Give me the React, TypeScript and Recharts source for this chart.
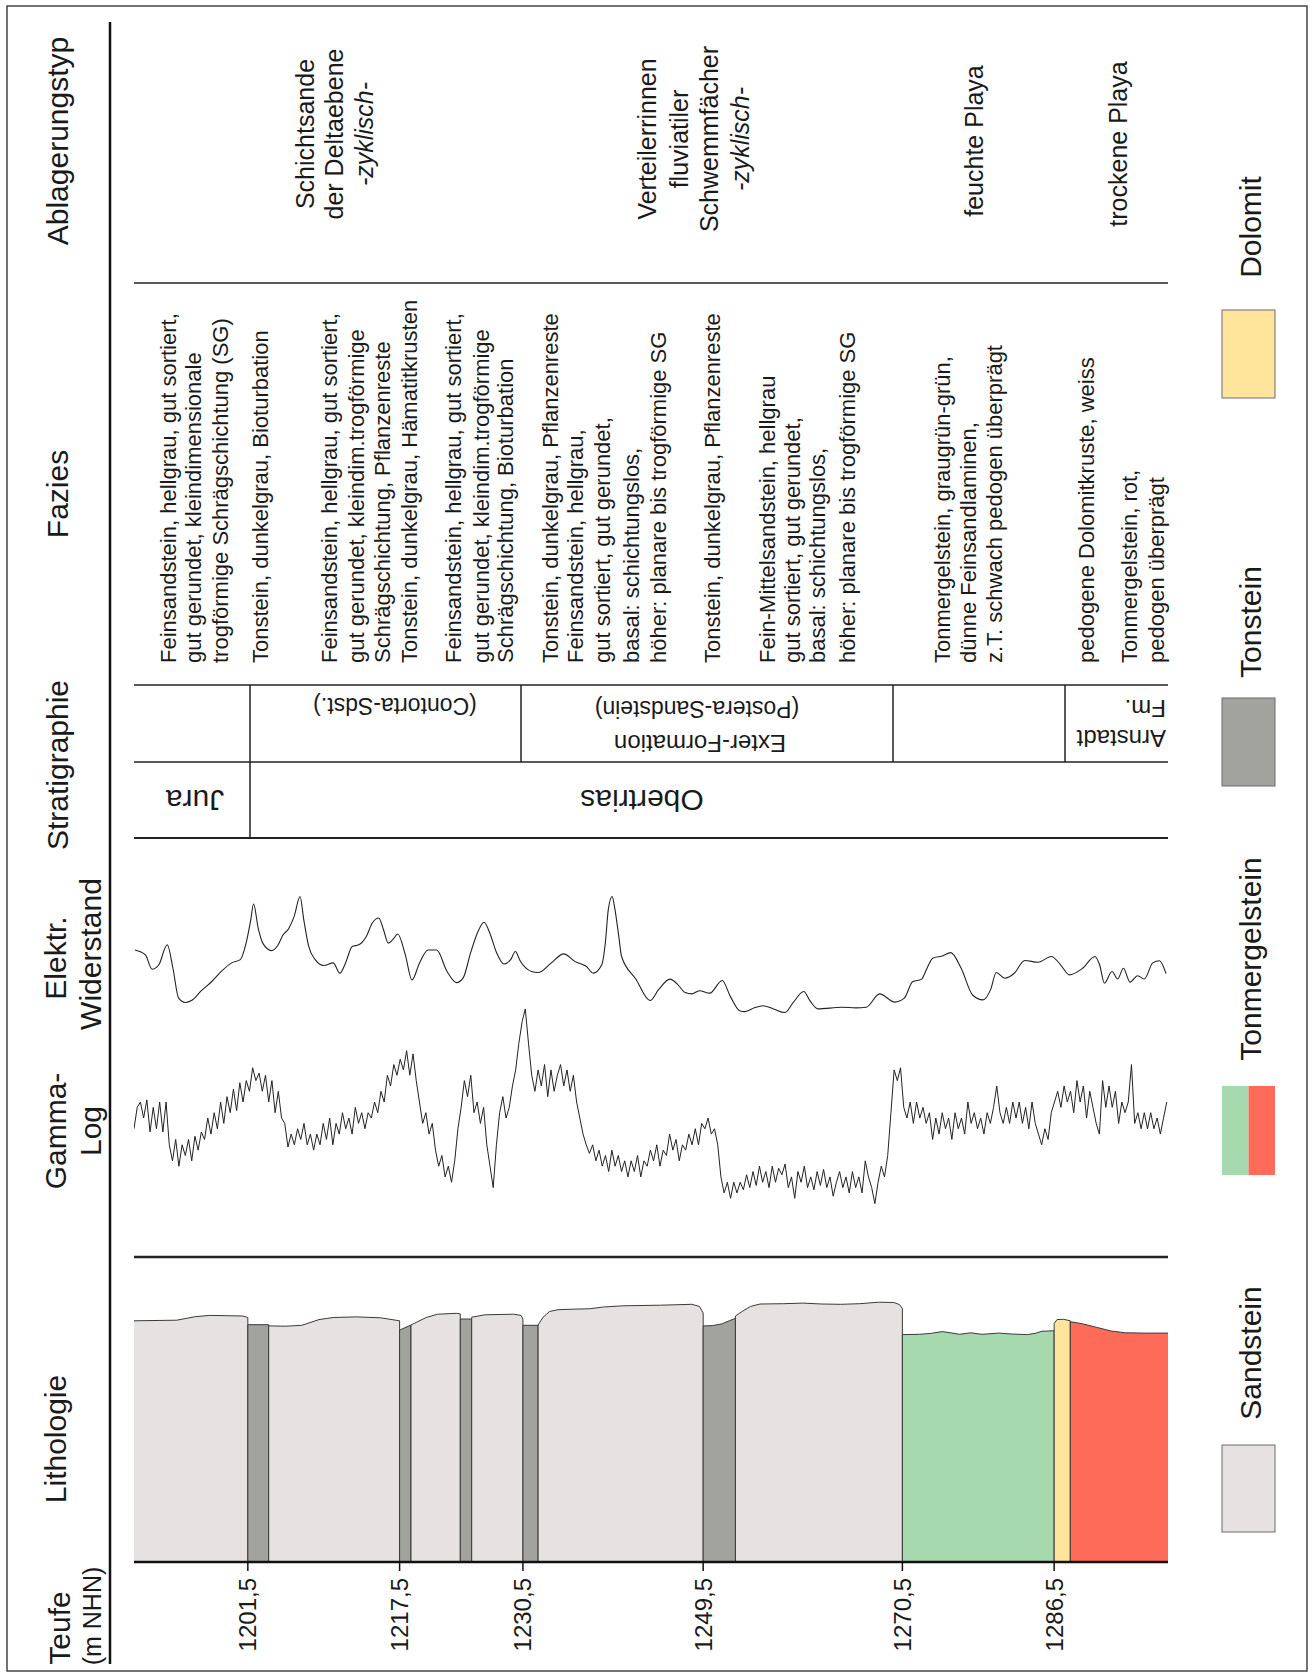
import React from 'react';
import { ComposedChart, LineChart, Line, Area, XAxis, YAxis } from 'recharts';

const FONT = "'Liberation Sans', Arial, Helvetica, sans-serif";
const INK = '#1a1a1a';

// ---------- data ----------
const DEPTH_DOMAIN: [number, number] = [1189.5, 1298.5];
const DEPTH_TICKS = [1201.5, 1217.5, 1230.5, 1249.5, 1270.5, 1286.5];

// Gamma log, sampled every GAMMA_STEP m from GAMMA_TOP (API-like units)
const GAMMA_TOP = 1189.5;
const GAMMA_STEP = 0.3381;
const GAMMA_VALUES = [
  75, 95, 100, 85, 102, 72, 95, 75, 100, 72,
  100, 60, 45, 65, 40, 60, 50, 65, 45, 68,
  55, 72, 65, 85, 70, 90, 75, 100, 80, 105,
  90, 112, 92, 118, 100, 120, 110, 132, 120, 127,
  110, 125, 100, 120, 90, 110, 85, 80, 58, 70,
  60, 75, 65, 80, 60, 70, 55, 70, 60, 80,
  65, 85, 60, 80, 70, 90, 75, 85, 70, 95,
  80, 90, 75, 90, 85, 100, 90, 110, 100, 125,
  115, 135, 125, 140, 130, 148, 125, 145, 120, 100,
  80, 90, 70, 80, 55, 40, 50, 30, 40, 25,
  45, 75, 95, 120, 105, 125, 90, 100, 80, 95,
  60, 40, 20, 60, 90, 105, 85, 95, 115, 130,
  155, 175, 187, 155, 125, 110, 130, 115, 135, 105,
  130, 110, 125, 135, 115, 130, 110, 125, 100, 85,
  70, 60, 52, 60, 45, 55, 40, 50, 35, 55,
  40, 50, 35, 45, 30, 45, 35, 50, 30, 45,
  40, 55, 45, 60, 40, 55, 50, 70, 55, 65,
  45, 60, 55, 70, 60, 75, 60, 80, 75, 85,
  70, 75, 60, 30, 15, 25, 10, 25, 15, 25,
  18, 32, 20, 35, 22, 40, 25, 35, 20, 40,
  25, 38, 32, 42, 20, 30, 10, 35, 25, 40,
  20, 30, 18, 35, 22, 37, 20, 30, 12, 25,
  35, 20, 30, 15, 35, 20, 30, 15, 45, 30,
  20, 5, 25, 40, 30, 50, 90, 130, 120, 132,
  95, 85, 100, 80, 100, 85, 95, 80, 90, 65,
  85, 70, 90, 75, 85, 65, 90, 75, 85, 70,
  100, 80, 90, 75, 85, 70, 90, 80, 95, 115,
  90, 80, 95, 80, 100, 85, 100, 80, 95, 75,
  100, 80, 70, 60, 75, 65, 90, 100, 110, 95,
  115, 100, 110, 90, 120, 100, 115, 85, 110, 95,
  80, 70, 120, 95, 115, 95, 110, 80, 100, 90,
  100, 135, 80, 90, 75, 90, 75, 90, 75, 85,
  70, 85, 100,
];

// Electrical resistivity (arbitrary units)
const RES_DEPTH = [
  1189.6, 1190.7, 1191.4, 1192.1, 1193.0, 1193.6, 1194.2, 1194.9, 1195.6, 1196.6,
  1197.7, 1198.7, 1199.8, 1200.7, 1201.3, 1201.8, 1202.1, 1202.6, 1203.1, 1204.0,
  1204.7, 1205.2, 1205.8, 1206.4, 1207.0, 1207.4, 1207.9, 1208.6, 1209.5, 1210.5,
  1211.2, 1211.8, 1212.5, 1213.2, 1214.0, 1214.6, 1215.3, 1215.8, 1216.3, 1216.8,
  1217.3, 1218.1, 1218.8, 1219.6, 1220.5, 1221.4, 1222.5, 1223.5, 1224.2, 1225.0,
  1225.7, 1226.4, 1227.0, 1227.7, 1228.5, 1229.2, 1229.7, 1230.2, 1231.4, 1232.1,
  1233.5, 1234.8, 1236.0, 1237.2, 1237.9, 1238.8, 1239.2, 1239.5, 1239.9, 1240.2,
  1240.6, 1240.9, 1242.4, 1243.9, 1244.8, 1246.0, 1246.8, 1247.6, 1248.3, 1249.1,
  1250.2, 1251.5, 1252.4, 1253.4, 1253.9, 1254.9, 1255.8, 1256.9, 1258.1, 1259.0,
  1260.1, 1260.8, 1261.6, 1264.1, 1265.6, 1266.7, 1268.1, 1269.7, 1270.7, 1271.6,
  1272.5, 1273.1, 1273.7, 1274.7, 1275.6, 1276.7, 1277.9, 1279.0, 1279.8, 1280.4,
  1281.3, 1282.3, 1283.4, 1284.8, 1286.2, 1287.2, 1288.1, 1289.5, 1290.8, 1291.3,
  1291.8, 1292.6, 1293.2, 1293.8, 1294.5, 1295.3, 1296.0, 1296.9, 1297.6, 1298.3,
];
const RES_VALUE = [
  62, 57.5, 44, 48, 67, 45, 17, 13, 15, 24,
  32.6, 42, 50, 53, 68, 90, 105, 82, 68, 61.5,
  67, 76, 82, 94, 112, 90, 66, 53, 47.5, 50,
  40.3, 50, 65.3, 67, 75, 87, 92, 81, 68.5, 72,
  77, 57.5, 34, 50, 62, 62, 42, 31.6, 36, 60,
  78, 88, 78, 60, 49, 53, 60.6, 52, 42, 41,
  50, 58.4, 51.2, 46.6, 40.4, 48, 70, 100, 112, 100,
  75, 56, 35, 14.8, 25, 34.8, 30, 22.3, 21, 24,
  21.7, 33.5, 18, 5, 4.5, 8, 10, 7, 3.6, 13,
  23.2, 14, 7, 8.5, 8, 8.6, 21, 13.3, 17, 32.6,
  34.6, 45, 54.4, 56.5, 59.6, 45, 20, 15.4, 25, 41,
  35.6, 40.3, 52.2, 50.6, 56, 48, 38.8, 45, 56, 48,
  31, 42, 35, 45, 32, 38, 35, 50, 52, 40,
];

// Lithology units: kind + profile of the column edge [depth, profile value]
const LITHO_UNITS: { kind: string; top: [number, number][] }[] = [
  { kind: 'sand', top: [[1189.5, 80.4], [1194, 80.6], [1196, 81.8], [1197.5, 82.2], [1201, 82], [1201.5, 81.5]] },
  { kind: 'ton', top: [[1201.5, 79.1], [1203.7, 79.1]] },
  { kind: 'sand', top: [[1203.7, 78.7], [1205.5, 78.6], [1207.2, 78.9], [1209, 80.8], [1210.5, 81.5], [1213, 81.7], [1215.5, 81.4], [1217.5, 80.4]] },
  { kind: 'ton', top: [[1217.5, 77.3], [1218.7, 79]] },
  { kind: 'sand', top: [[1218.7, 79], [1220.3, 81.5], [1221.5, 82.6], [1223.5, 82.9], [1223.9, 82.7]] },
  { kind: 'ton', top: [[1223.9, 81], [1225.1, 81]] },
  { kind: 'sand', top: [[1225.1, 81.6], [1226.5, 82.4], [1229.5, 82.6], [1230.3, 82.2], [1230.5, 81]] },
  { kind: 'ton', top: [[1230.5, 78.9], [1232.1, 78.9]] },
  { kind: 'sand', top: [[1232.1, 79], [1232.6, 81.5], [1233.3, 83.5], [1234.2, 84.1], [1236, 84.3], [1237.5, 84.4], [1239, 85], [1241, 85.4], [1245, 85.6], [1248.3, 85.9], [1249.1, 85.2], [1249.5, 83]] },
  { kind: 'ton', top: [[1249.5, 78.7], [1250.5, 78.8], [1251.5, 79.4], [1252.3, 80.5], [1252.9, 81.2]] },
  { kind: 'sand', top: [[1252.9, 82], [1253.6, 83.5], [1254.5, 85.2], [1255.5, 86], [1258, 86.1], [1260, 86.3], [1262, 86], [1264, 85.9], [1266, 86.1], [1268, 86.6], [1269.6, 86.5], [1270.2, 85.8], [1270.5, 84.5]] },
  { kind: 'mergelGruen', top: [[1270.5, 75.8], [1272.3, 75.9], [1273.5, 76.2], [1274.7, 76.8], [1275.6, 76.4], [1276.5, 75.9], [1277.7, 76.4], [1278.9, 75.9], [1280.7, 76.3], [1282, 76], [1283.7, 75.8], [1284.6, 76.3], [1285.2, 76.9], [1286.5, 77.1]] },
  { kind: 'dolomit', top: [[1286.5, 79.5], [1286.8, 80.8], [1287.5, 80.9], [1288.2, 80.4]] },
  { kind: 'mergelRot', top: [[1288.2, 80.1], [1289.5, 79.4], [1291, 78.2], [1292.5, 77], [1294, 76.4], [1296, 76.3], [1298.5, 76.3]] },
];

const LITHO_COLORS: Record<string, string> = {
  sand: '#E6E2E2',
  ton: '#A2A29E',
  mergelGruen: '#A6DAAE',
  mergelRot: '#FF6B59',
  dolomit: '#FFE49C',
};

// ---------- texts ----------
const HEADERS: [number, number, string, number][] = [
  [59, 1628, 'Teufe', 30],
  [92, 1616, '(m NHN)', 25],
  [55, 1439, 'Lithologie', 30],
  [55, 1131, 'Gamma-', 30],
  [90, 1131, 'Log', 30],
  [55, 958, 'Elektr.', 30],
  [90, 954, 'Widerstand', 30],
  [57, 765, 'Stratigraphie', 30],
  [57, 494, 'Fazies', 30],
  [57, 141, 'Ablagerungstyp', 30],
];

const FAZIES_LINES: [number, string][] = [
  [168, 'Feinsandstein, hellgrau, gut sortiert,'],
  [193, 'gut gerundet, kleindimensionale'],
  [220, 'trogförmige Schrägschichtung (SG)'],
  [260, 'Tonstein, dunkelgrau, Bioturbation'],
  [329, 'Feinsandstein, hellgrau, gut sortiert,'],
  [356, 'gut gerundet, kleindim.trogförmige'],
  [382, 'Schrägschichtung, Pflanzenreste'],
  [409, 'Tonstein, dunkelgrau, Hämatitkrusten'],
  [453, 'Feinsandstein, hellgrau, gut sortiert,'],
  [481, 'gut gerundet, kleindim.trogförmige'],
  [505, 'Schrägschichtung, Bioturbation'],
  [550, 'Tonstein, dunkelgrau, Pflanzenreste'],
  [575, 'Feinsandstein, hellgrau,'],
  [602, 'gut sortiert, gut gerundet,'],
  [631, 'basal: schichtungslos,'],
  [658, 'höher: planare bis trogförmige SG'],
  [712, 'Tonstein, dunkelgrau, Pflanzenreste'],
  [767, 'Fein-Mittelsandstein, hellgrau'],
  [792, 'gut sortiert, gut gerundet,'],
  [817, 'basal: schichtungslos,'],
  [847, 'höher: planare bis trogförmige SG'],
  [942, 'Tonmergelstein, graugrün-grün,'],
  [968, 'dünne Feinsandlaminen,'],
  [994, 'z.T. schwach pedogen überprägt'],
  [1086, 'pedogene Dolomitkruste, weiss'],
  [1129, 'Tonmergelstein, rot,'],
  [1156, 'pedogen überprägt'],
];

const ABLAGERUNG_LINES: [number, number, string, boolean][] = [
  [305, 134, 'Schichtsande', false],
  [334, 134, 'der Deltaebene', false],
  [364, 134, '-zyklisch-', true],
  [647, 139, 'Verteilerrinnen', false],
  [679, 139, 'fluviatiler', false],
  [709, 139, 'Schwemmfächer', false],
  [740, 139, '-zyklisch-', true],
  [974, 141, 'feuchte Playa', false],
  [1118, 144, 'trockene Playa', false],
];

const STRAT_TEXTS: [number, number, string, 'middle' | 'start', number][] = [
  [395, 706, '(Contorta-Sdst.)', 'middle', 23],
  [700, 743, 'Exter-Formation', 'middle', 24],
  [697, 709, '(Postera-Sandstein)', 'middle', 23],
  [1166, 738, 'Arnstadt', 'start', 24],
  [1166, 708, 'Fm.', 'start', 24],
  [195, 800, 'Jura', 'middle', 30],
  [642, 800, 'Obertrias', 'middle', 30],
];

const LEGEND: { label: string; fills: string[]; y: number; h: number; ty: number }[] = [
  { label: 'Dolomit', fills: [LITHO_COLORS.dolomit], y: 310, h: 88, ty: 227 },
  { label: 'Tonstein', fills: [LITHO_COLORS.ton], y: 698, h: 88, ty: 622 },
  { label: 'Tonmergelstein', fills: [LITHO_COLORS.mergelGruen, LITHO_COLORS.mergelRot], y: 1086, h: 89, ty: 959 },
  { label: 'Sandstein', fills: [LITHO_COLORS.sand], y: 1445, h: 87, ty: 1353 },
];

// ---------- layout ----------
const PLOT_LEFT = 134;
const PLOT_WIDTH = 1034;

const fmtDepth = (v: number) => v.toFixed(1).replace('.', ',');

function DepthTick(props: any) {
  const { x, y, payload } = props;
  const ty = y + 2;
  return (
    <text
      x={x}
      y={ty}
      transform={`rotate(-90 ${x} ${ty})`}
      textAnchor="end"
      dominantBaseline="central"
      fontFamily={FONT}
      fontSize={24}
      fill={INK}
    >
      {fmtDepth(payload.value)}
    </text>
  );
}

function VText({ x, y, text, size, anchor = 'middle', italic = false, rot = -90 }: any) {
  return (
    <text
      x={x}
      y={y}
      transform={`rotate(${rot} ${x} ${y})`}
      textAnchor={anchor}
      dominantBaseline="central"
      fontFamily={FONT}
      fontSize={size}
      fontStyle={italic ? 'italic' : 'normal'}
      fill={INK}
    >
      {text}
    </text>
  );
}

export default function App() {
  const gammaRows = GAMMA_VALUES.map((g, i) => ({ d: GAMMA_TOP + i * GAMMA_STEP, g }));
  const resRows = RES_DEPTH.map((d, i) => ({ d, r: RES_VALUE[i] }));

  const hLines = [
    { y: 283, w: 1.5 },
    { y: 685, w: 1.5 },
    { y: 762, w: 1.5 },
    { y: 838, w: 2 },
    { y: 1257, w: 2.5 },
  ];
  const vLines = [
    { x: 250, y1: 685, y2: 838 },
    { x: 521, y1: 685, y2: 762 },
    { x: 893, y1: 685, y2: 762 },
    { x: 1065, y1: 685, y2: 762 },
  ];

  return (
    <div style={{ position: 'relative', width: 1314, height: 1678, background: '#fff', overflow: 'hidden' }}>
      <style>{'html,body{margin:0;padding:0;background:#fff;}'}</style>
      <svg width={1314} height={1678} style={{ position: 'absolute', left: 0, top: 0 }}>
        <rect x={7} y={6} width={1300} height={1665} fill="none" stroke="#444" strokeWidth={1.5} />
        <line x1={110} y1={22} x2={110} y2={1664} stroke="#111" strokeWidth={2.5} />
        {hLines.map((l, i) => (
          <line key={i} x1={PLOT_LEFT} y1={l.y} x2={PLOT_LEFT + PLOT_WIDTH} y2={l.y} stroke="#222" strokeWidth={l.w} />
        ))}
        {vLines.map((l, i) => (
          <line key={i} x1={l.x} y1={l.y1} x2={l.x} y2={l.y2} stroke="#222" strokeWidth={1.5} />
        ))}
        {HEADERS.map(([x, y, t, s], i) => (
          <VText key={i} x={x} y={y} text={t} size={s} />
        ))}
        {FAZIES_LINES.map(([x, t], i) => (
          <VText key={i} x={x} y={663} text={t} size={22} anchor="start" />
        ))}
        {ABLAGERUNG_LINES.map(([x, y, t, it], i) => (
          <VText key={i} x={x} y={y} text={t} size={25} italic={it} />
        ))}
        {STRAT_TEXTS.map(([x, y, t, a, s], i) => (
          <VText key={i} x={x} y={y} text={t} size={s} anchor={a} rot={180} />
        ))}
        {LEGEND.map((l, i) => (
          <g key={i}>
            {l.fills.map((f, j) => {
              const w = 53 / l.fills.length;
              return (
                <rect
                  key={j}
                  x={1222 + j * w}
                  y={l.y}
                  width={w}
                  height={l.h}
                  fill={f}
                  stroke={l.fills.length > 1 ? 'none' : '#6b6b6b'}
                  strokeWidth={1}
                />
              );
            })}
            <VText x={1250} y={l.ty} text={l.label} size={30} />
          </g>
        ))}
      </svg>

      {/* Elektr. Widerstand */}
      <div style={{ position: 'absolute', left: PLOT_LEFT, top: 888 }}>
        <LineChart width={PLOT_WIDTH} height={128.4} data={resRows} margin={{ top: 0, right: 0, bottom: 0, left: 0 }}>
          <XAxis dataKey="d" type="number" domain={DEPTH_DOMAIN} hide allowDataOverflow />
          <YAxis type="number" domain={[0, 120]} hide allowDataOverflow />
          <Line dataKey="r" type="monotone" stroke="#222" strokeWidth={1.1} dot={false} activeDot={false} isAnimationActive={false} />
        </LineChart>
      </div>

      {/* Gamma-Log */}
      <div style={{ position: 'absolute', left: PLOT_LEFT, top: 995 }}>
        <LineChart width={PLOT_WIDTH} height={214} data={gammaRows} margin={{ top: 0, right: 0, bottom: 0, left: 0 }}>
          <XAxis dataKey="d" type="number" domain={DEPTH_DOMAIN} hide allowDataOverflow />
          <YAxis type="number" domain={[0, 200]} hide allowDataOverflow />
          <Line dataKey="g" type="linear" stroke="#222" strokeWidth={1} dot={false} activeDot={false} isAnimationActive={false} />
        </LineChart>
      </div>

      {/* Lithologie + Teufe axis */}
      <div style={{ position: 'absolute', left: PLOT_LEFT, top: 1262 }}>
        <ComposedChart width={PLOT_WIDTH} height={400} margin={{ top: 0, right: 0, bottom: 0, left: 0 }}>
          <XAxis
            dataKey="d"
            type="number"
            domain={DEPTH_DOMAIN}
            ticks={DEPTH_TICKS}
            allowDataOverflow
            height={100}
            axisLine={{ stroke: '#111', strokeWidth: 2.5 }}
            tickLine={{ stroke: '#111', strokeWidth: 1.5 }}
            tickSize={9}
            tickMargin={5}
            tick={(p: any) => <DepthTick {...p} />}
          />
          <YAxis type="number" domain={[0, 100]} hide allowDataOverflow />
          {LITHO_UNITS.map((u, i) => {
            const first = u.top[0][0];
            const last = u.top[u.top.length - 1][0];
            const pts = u.top.map(([d, v]) => ({ d, v }));
            if (first > DEPTH_DOMAIN[0]) pts.unshift({ d: first, v: 0 });
            if (last < DEPTH_DOMAIN[1]) pts.push({ d: last, v: 0 });
            return (
              <Area
                key={i}
                data={pts}
                dataKey="v"
                type="linear"
                fill={LITHO_COLORS[u.kind]}
                fillOpacity={1}
                stroke="#3a3a3a"
                strokeWidth={1}
                dot={false}
                activeDot={false}
                isAnimationActive={false}
              />
            );
          })}
        </ComposedChart>
      </div>
    </div>
  );
}
